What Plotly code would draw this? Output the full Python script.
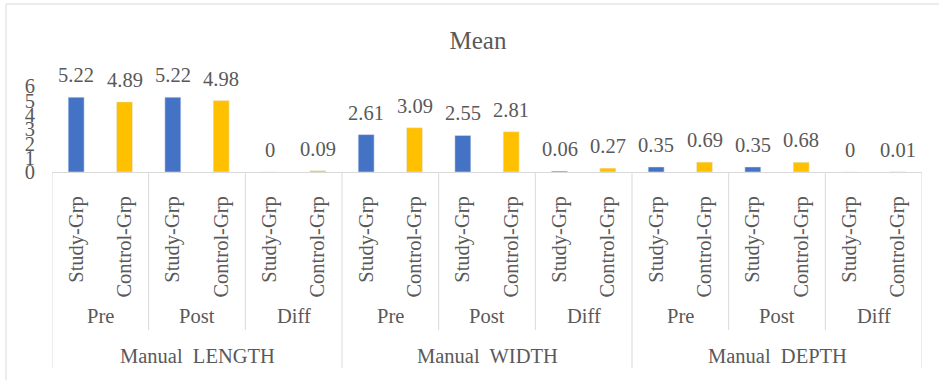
import plotly.graph_objects as go

# ---- data ----
measures = ["Manual\u00a0 LENGTH", "Manual\u00a0 WIDTH", "Manual\u00a0 DEPTH"]
phases = ["Pre", "Post", "Diff"]
groups = ["Study-Grp", "Control-Grp"]
study_values = [5.22, 5.22, 0, 2.61, 2.55, 0.06, 0.35, 0.35, 0]
control_values = [4.89, 4.98, 0.09, 3.09, 2.81, 0.27, 0.69, 0.68, 0.01]
y_ticks = [0, 1, 2, 3, 4, 5, 6]

# ---- layout constants (pixels) ----
W, H = 939, 380
L, R, T, B = 52, 922, 86, 172
FONT = "Times New Roman, Liberation Serif, DejaVu Serif, serif"
TXT = "#595959"
GRID = "#d9d9d9"

def px_x(x):
    return (x - L) / (R - L)

def px_y(y):
    return (B - y) / (B - T)

n_sub = len(phases) * len(measures)
study_x = [2 * k for k in range(n_sub)]
control_x = [2 * k + 1 for k in range(n_sub)]

fig = go.Figure()
fig.add_trace(go.Bar(x=study_x, y=study_values, width=0.33, marker_color="#4472C4",
                     name=groups[0], hoverinfo="skip"))
fig.add_trace(go.Bar(x=control_x, y=control_values, width=0.33, marker_color="#FFC000",
                     name=groups[1], hoverinfo="skip"))

annotations = []
for xs, vals in ((study_x, study_values), (control_x, control_values)):
    for x, v in zip(xs, vals):
        annotations.append(dict(x=x, y=v, xref="x", yref="y", text=f"{v:g}",
                                showarrow=False, yanchor="bottom", yshift=9,
                                font=dict(family=FONT, size=20.5, color=TXT)))

shapes = []
for k in range(n_sub + 1):
    xb = 2 * k - 0.5
    if k % len(phases) == 0:
        y_end = 368
    else:
        y_end = 330
    shapes.append(dict(type="line", xref="x", yref="paper", x0=xb, x1=xb,
                       y0=0, y1=px_y(y_end), line=dict(color=GRID, width=1)))

for k in range(n_sub):
    annotations.append(dict(x=2 * k + 0.5, y=px_y(316), xref="x", yref="paper",
                            text=phases[k % len(phases)], showarrow=False,
                            yanchor="middle",
                            font=dict(family=FONT, size=20.5, color=TXT)))
for m, name in enumerate(measures):
    annotations.append(dict(x=2 * len(phases) * m + len(phases) - 0.5, y=px_y(356),
                            xref="x", yref="paper", text=name, showarrow=False,
                            yanchor="middle",
                            font=dict(family=FONT, size=20.5, color=TXT)))

# outer chart border
shapes.append(dict(type="rect", xref="paper", yref="paper",
                   x0=px_x(6), x1=px_x(1000), y0=px_y(4), y1=px_y(500),
                   line=dict(color=GRID, width=1), fillcolor="rgba(0,0,0,0)",
                   layer="below"))

tick_text = [groups[i % 2] for i in range(2 * n_sub)]

fig.update_layout(
    width=W, height=H,
    margin=dict(l=L, r=W - R, t=T, b=H - B, autoexpand=False),
    paper_bgcolor="white", plot_bgcolor="white",
    barmode="overlay", showlegend=False,
    title=dict(text="Mean", x=478 / W, xref="container", xanchor="center",
               y=1 - 40 / H, yref="container", yanchor="middle",
               font=dict(family=FONT, size=25, color=TXT)),
    xaxis=dict(range=[-0.5, 2 * n_sub - 0.5], tickvals=list(range(2 * n_sub)),
               ticktext=tick_text, tickangle=-90, showgrid=False, zeroline=False,
               showline=True, linecolor=GRID, linewidth=1, ticks="",
               ticklabelstandoff=15, automargin=False,
               tickfont=dict(family=FONT, size=20.5, color=TXT)),
    yaxis=dict(range=[0, 6], tickvals=y_ticks, showgrid=False, zeroline=False,
               showline=False, ticks="", ticklabelstandoff=16, automargin=False,
               tickfont=dict(family=FONT, size=20.5, color=TXT)),
    annotations=annotations, shapes=shapes,
)

fig.write_html("out.html", config={"displayModeBar": False},
               post_script="document.body.style.margin='0';document.body.style.overflow='hidden';")
